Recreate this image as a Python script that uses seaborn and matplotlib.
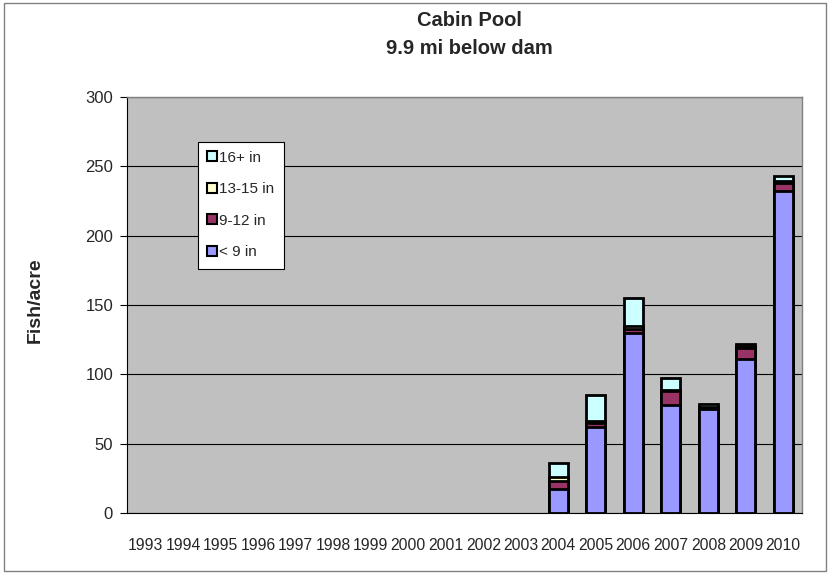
import numpy as np
import pandas as pd
import matplotlib
matplotlib.use('Agg')
import matplotlib.pyplot as plt
import seaborn as sns
from matplotlib.patches import Rectangle
from matplotlib.lines import Line2D

years = [str(y) for y in range(1993, 2011)]
data_years = ['2004', '2005', '2006', '2007', '2008', '2009', '2010']
under9 = [17, 62, 129.5, 78, 75, 111, 232]
in9_12 = [6, 3, 3.5, 10, 0.5, 8, 6]
in13_15 = [3, 1.5, 1.5, 1, 1, 1.5, 1.5]
in16 = [10, 18.5, 20.5, 8.5, 2, 1.5, 3.5]

labels = ['< 9 in', '9-12 in', '13-15 in', '16+ in']
colors = ['#9999FF', '#993366', '#FFFFCC', '#CCFFFF']

sns.set_style('white')
plt.rcParams['font.family'] = ['Liberation Sans', 'DejaVu Sans']

fig = plt.figure(figsize=(8.3, 5.74), dpi=100)
ax = fig.add_axes([127 / 830, 1 - 513 / 574, 675 / 830, 416 / 574])
ax.set_facecolor('#C0C0C0')

segs = np.array([under9, in9_12, in13_15, in16])
cum = np.cumsum(segs, axis=0)

# draw totals first, then overlay lower stacks
for i in range(3, -1, -1):
    df = pd.DataFrame({'year': data_years, 'val': cum[i]})
    sns.barplot(data=df, x='year', y='val', order=years, color=colors[i],
                saturation=1, width=0.5, edgecolor='black', linewidth=2,
                ax=ax, zorder=3)

ax.set_ylim(0, 300)
ax.set_xlim(-0.5, len(years) - 0.5)
ax.set_yticks(range(0, 301, 50))
ax.yaxis.grid(True, color='black', linewidth=0.8)
ax.set_axisbelow(True)

ax.set_xticks(np.arange(len(years)))
ax.set_xticklabels(years, fontsize=11.3)
ax.tick_params(axis='x', length=0, pad=18)
ax.set_xticks(np.arange(-0.5, len(years)), minor=True)
ax.tick_params(axis='x', which='minor', length=5, width=0.8, direction='out', color='black')
ax.tick_params(axis='y', labelsize=12, length=5, width=0.8, direction='out', left=True,
               color='black', pad=5)

for s in ['left', 'bottom']:
    ax.spines[s].set_color('black')
    ax.spines[s].set_linewidth(0.8)
for s in ['top', 'right']:
    ax.spines[s].set_color('#808080')
    ax.spines[s].set_linewidth(1)

ax.set_xlabel('')
ax.set_ylabel('')
fig.text(35 / 830, 1 - 300 / 574, 'Fish/acre', rotation=90, fontsize=14,
         fontweight='bold', ha='center', va='center')

fig.text(0.566, 1 - 20 / 574, 'Cabin Pool', fontsize=14.5, fontweight='bold',
         ha='center', va='center')
fig.text(0.566, 1 - 48 / 574, '9.9 mi below dam', fontsize=14.5, fontweight='bold',
         ha='center', va='center')

handles = [Line2D([], [], marker='s', linestyle='none', markersize=7,
                  markerfacecolor=colors[i], markeredgecolor='black', markeredgewidth=1.5)
           for i in range(3, -1, -1)]
leg = ax.legend(handles, labels[::-1], loc='upper left', bbox_to_anchor=(0.105, 0.893),
                frameon=True, fancybox=False, fontsize=11, labelspacing=1.15,
                handlelength=0.6, handletextpad=0.2, borderpad=0.6, borderaxespad=0)
leg.get_frame().set_edgecolor('black')
leg.get_frame().set_facecolor('white')
leg.get_frame().set_linewidth(0.8)
leg.get_frame().set_alpha(1)

fig.patches.append(Rectangle((0.005, 0.006), 0.99, 0.988, transform=fig.transFigure,
                             fill=False, edgecolor='#808080', linewidth=1))

fig.savefig('out.png', dpi=100, facecolor='white')
